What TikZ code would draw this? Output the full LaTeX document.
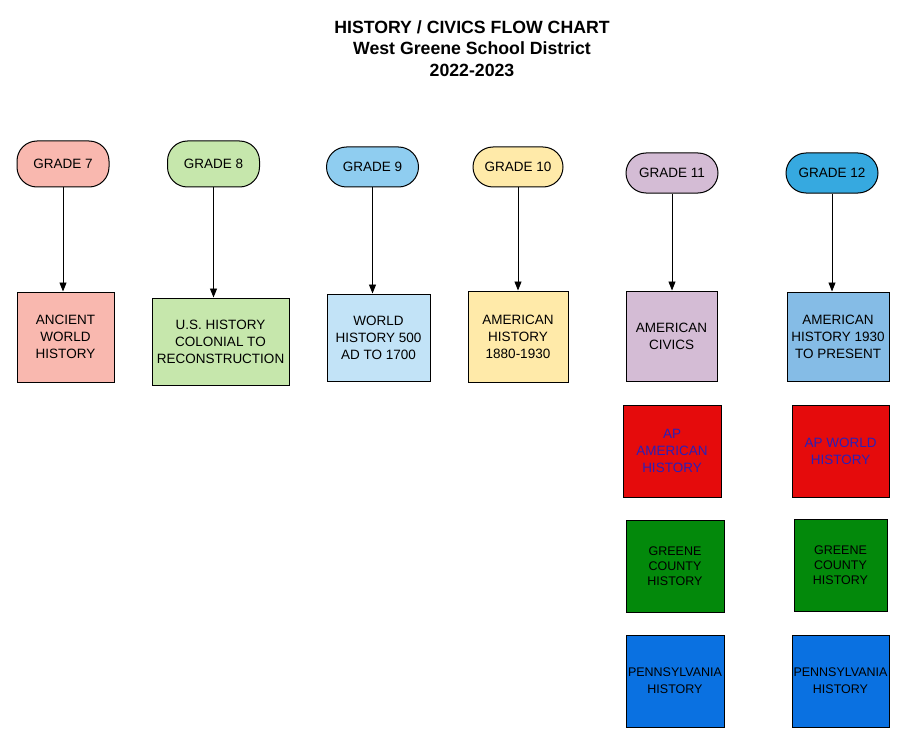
\documentclass[tikz,border=0pt]{standalone}
\usepackage{fontspec}
\setmainfont{Liberation Sans}
\usetikzlibrary{arrows.meta}
\tikzset{grade/.style = {draw, line width = 1, rounded corners = 20, inner sep = 0, minimum width = 92, minimum height = 40, font = \fontsize{13.5}{16}\selectfont}}
\tikzset{course/.style = {draw, line width = 1, align = center, inner sep = 0, font = \fontsize{13.5}{17}\selectfont}}
\tikzset{extra/.style = {course, minimum width = 98, minimum height = 92}}
\tikzset{link/.style = {line width = 0.9, -{Triangle[length = 9, width = 7]}}}
\tikzset{heading/.style = {font = \fontsize{17.7}{19}\selectfont\bfseries}}
\definecolor{pink7}{HTML}{F9B8AF}
\definecolor{green8}{HTML}{C6E7AC}
\definecolor{blue9}{HTML}{8FCDF0}
\definecolor{lblue9}{HTML}{C2E3F7}
\definecolor{yellow10}{HTML}{FFEAA9}
\definecolor{lilac11}{HTML}{D4BCD5}
\definecolor{blue12}{HTML}{36A9E0}
\definecolor{mblue12}{HTML}{85BCE6}
\definecolor{apred}{HTML}{E50B0C}
\definecolor{aptext}{HTML}{2A20B8}
\definecolor{gcgreen}{HTML}{03890B}
\definecolor{pablue}{HTML}{0A71E1}
\begin{document}
\begin{tikzpicture}[x = 1pt, y = -1pt]
      \useasboundingbox (0, 0) rectangle (904, 738);
      \node (title) [heading] at (472, 27) {HISTORY / CIVICS FLOW CHART};
      \node (district) [heading] at (472, 48) {West Greene School District};
      \node (year) [heading] at (472, 70) {2022-2023};

      \node (g7) [grade, fill = pink7, minimum height = 46] at (63, 164) {GRADE 7};
      \node (g8) [grade, fill = green8, minimum height = 46] at (213.5, 164) {GRADE 8};
      \node (g9) [grade, fill = blue9] at (372.5, 167) {GRADE 9};
      \node (g10) [grade, fill = yellow10, minimum width = 90] at (518, 167) {GRADE 10};
      \node (g11) [grade, fill = lilac11] at (672, 173) {GRADE 11};
      \node (g12) [grade, fill = blue12] at (832, 173) {GRADE 12};

      \node (b7) [course, fill = pink7, minimum width = 97, minimum height = 90] at (65.5, 337) {ANCIENT\\WORLD\\HISTORY};
      \node (b8) [course, fill = green8, minimum width = 137, minimum height = 87] at (220.5, 341.5) {U.S. HISTORY\\COLONIAL TO\\RECONSTRUCTION};
      \node (b9) [course, fill = lblue9, minimum width = 103, minimum height = 87] at (378.5, 337.5) {WORLD\\HISTORY 500\\AD TO 1700};
      \node (b10) [course, fill = yellow10, minimum width = 100, minimum height = 91] at (518, 336.5) {AMERICAN\\HISTORY\\1880-1930};
      \node (b11) [course, fill = lilac11, minimum width = 91, minimum height = 90] at (671.5, 336) {AMERICAN\\CIVICS};
      \node (b12) [course, fill = mblue12, minimum width = 102, minimum height = 89] at (838, 336.5) {AMERICAN\\HISTORY 1930\\TO PRESENT};

      \node (ap11) [extra, fill = apred, text = aptext] at (672, 451) {AP\\AMERICAN\\HISTORY};
      \node (ap12) [extra, fill = apred, text = aptext, minimum width = 97] at (840.5, 451) {AP WORLD\\HISTORY};
      \node (gc11) [extra, fill = gcgreen, font = \fontsize{12.5}{15}\selectfont] at (675, 566) {GREENE\\COUNTY\\HISTORY};
      \node (gc12) [extra, fill = gcgreen, minimum width = 93, font = \fontsize{12.5}{15}\selectfont] at (840.5, 565) {GREENE\\COUNTY\\HISTORY};
      \node (pa11) [extra, fill = pablue, font = \fontsize{12.5}{17}\selectfont] at (675, 681) {PENNSYLVANIA\\HISTORY};
      \node (pa12) [extra, fill = pablue, minimum width = 97, font = \fontsize{12.5}{17}\selectfont] at (840.5, 681) {PENNSYLVANIA\\HISTORY};

      \foreach \n in {7, 8, 9, 10, 11, 12} {
        \draw [link] (g\n.south) -- (g\n.south |- b\n.north);
      }
    \end{tikzpicture}
\end{document}
